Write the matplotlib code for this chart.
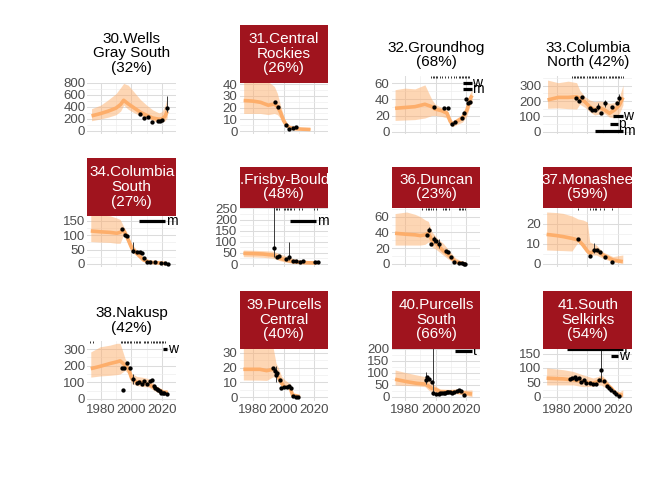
import matplotlib
matplotlib.use('Agg')
import matplotlib.pyplot as plt
import matplotlib.transforms as mtransforms
import numpy as np

plt.rcParams['font.family'] = ['Liberation Sans', 'DejaVu Sans']

# 30. Wells Gray South
wgs_yr = [1974, 1980, 1985, 1990, 1993, 1995, 1998, 2002, 2006, 2010, 2014, 2018, 2020, 2022, 2023.5]
wgs_fit = [250, 290, 330, 380, 440, 510, 450, 380, 310, 260, 215, 195, 200, 240, 330]
wgs_lo = [170, 200, 230, 270, 330, 430, 360, 300, 250, 220, 170, 140, 145, 170, 220]
wgs_hi = [370, 430, 520, 620, 720, 790, 760, 640, 520, 430, 350, 300, 320, 420, 560]
wgs_obs_yr = [2006.0, 2008.4, 2011.2, 2013.4, 2017.6, 2018.9, 2020.2, 2023.5]
wgs_obs = [284, 215, 232, 148, 170, 164, 187, 385]
wgs_err_yr = [2023.5]
wgs_err_lo = [310]
wgs_err_hi = [575]

# 31. Central Rockies
cr_yr = [1974, 1980, 1985, 1990, 1994, 1996, 1998, 2000, 2002, 2004, 2008, 2012, 2017.5]
cr_fit = [26, 25.5, 24.5, 22, 23, 21, 16, 9, 5, 3, 2, 1.7, 1.4]
cr_lo = [15, 15, 15, 14, 15, 14, 11, 6, 3.5, 2, 1.2, 1, 0.8]
cr_hi = [45, 45, 44, 42, 38, 32, 22, 13, 7, 4.5, 3.5, 3, 3]
cr_obs_yr = [1994.4, 1996.5, 2001.6, 2003.7, 2005.9, 2008.0]
cr_obs = [24.8, 20.7, 5, 1.4, 2.8, 3.9]

# 32. Groundhog
gh_yr = [1973.5, 1980, 1986.5, 1993, 1997.5, 1999.7, 2004, 2007.4, 2009.5, 2011, 2014, 2017.6, 2020.5, 2022.6, 2023.8]
gh_fit = [29, 30, 31, 34, 31, 28, 26, 23, 13, 9, 13, 17, 27, 41, 45]
gh_lo = [14, 14.5, 15, 17, 20, 20, 19, 17, 9, 6, 9, 12, 20, 33, 36]
gh_hi = [52, 54, 53, 58, 40, 34, 30, 27, 18, 13, 17, 22, 33, 48, 52]
gh_obs_yr = [1999.0, 2005.8, 2008.0, 2010.8, 2012.8, 2017.2, 2018.7, 2020.0, 2021.3, 2022.2]
gh_obs = [30.2, 29, 29, 9.2, 11.6, 17.4, 23.6, 40, 35, 37]
gh_rug = [1997, 1998, 1999, 2000, 2001, 2003, 2004, 2006, 2008, 2010, 2012, 2013,
          2015, 2016, 2017, 2018, 2019, 2020, 2021, 2022]
gh_trt_lab = ['w', 'm']
gh_trt_start = [2017.8, 2017.8]
gh_trt_end = [2023.5, 2023.5]
gh_trt_y = [60, 53]

# 33. Columbia North
cn_yr = [1974, 1981, 1987.5, 1993, 1995, 1998.3, 2001.6, 2004.8, 2008, 2011.3, 2014.5, 2017.8, 2021, 2023.3]
cn_fit = [207, 224, 224, 228, 218, 196, 163, 142, 157, 142, 120, 142, 174, 224]
cn_lo = [153, 155, 150, 148, 179, 160, 130, 109, 115, 118, 95, 90, 120, 174]
cn_hi = [337, 320, 330, 320, 272, 230, 207, 196, 200, 196, 185, 190, 228, 305]
cn_obs_yr = [1992.6, 1994.4, 1996.2, 2001.5, 2003.3, 2004.8, 2007.0, 2009.2, 2011.3, 2016.1, 2019.5, 2021.0]
cn_obs = [218, 200, 228, 157, 142, 142, 163, 120, 185, 163, 185, 218]
cn_err_yr = [2007.0, 2011.3, 2021.0]
cn_err_lo = [140, 160, 195]
cn_err_hi = [190, 210, 245]
cn_rug = [1990, 1991, 1992, 1993, 1994, 1995, 1996, 1997, 1998, 2000, 2001, 2002, 2003,
          2004, 2005, 2006, 2007, 2008, 2009, 2010, 2011, 2012, 2014, 2015, 2016, 2017,
          2018, 2019, 2020, 2021, 2022, 2023]
cn_trt_lab = ['w', 'p', 'm']
cn_trt_start = [2017.0, 2014.5, 2005.0]
cn_trt_end = [2023.2, 2020.0, 2023.2]
cn_trt_y = [104, 52, 3]

# 34. Columbia South
cs_yr = [1973.5, 1980, 1986, 1990.5, 1992.7, 1994.8, 1997.1, 2000.3, 2003.6, 2008, 2012.3, 2018.9, 2023.3]
cs_fit = [115, 112, 110, 107, 110, 118, 95, 55, 37, 14, 6, 3.5, 1]
cs_lo = [78, 76, 75, 72, 72, 100, 80, 42, 28, 9, 3, 1, 0]
cs_hi = [170, 170, 168, 160, 155, 132, 110, 70, 48, 22, 11, 6, 3]
cs_obs_yr = [1993.8, 1995.9, 1997.1, 2001.4, 2003.6, 2005.8, 2006.9, 2008.4, 2010.2, 2012.3, 2015.6, 2019.7, 2022.0, 2023.7]
cs_obs = [122, 101, 99, 45, 43, 41, 37, 20, 8, 6, 6, 4.5, 2.5, 0.5]
cs_err_yr = [2001.4]
cs_err_lo = [37]
cs_err_hi = [78]
cs_trt_lab = ['m']
cs_trt_start = [2004.7]
cs_trt_end = [2022.2]
cs_trt_y = [149]

# 35. Frisby-Boulder
fb_yr = [1973.8, 1980, 1986.8, 1993.3, 1997.6, 2002, 2006.3, 2010.7, 2015, 2021.5]
fb_fit = [48, 47, 45, 40, 26, 18, 10, 7.5, 6, 4.5]
fb_lo = [33, 32, 30, 26, 15, 7.5, 4, 2.5, 2, 1.5]
fb_hi = [63, 62, 60, 58, 45, 35, 25, 18, 14, 10]
fb_obs_yr = [1993.8, 1995.9, 1997.2, 2001.6, 2003.7, 2005.9, 2008.0, 2010.7, 2012.8, 2020.4, 2022.6]
fb_obs = [71, 30, 36, 21, 30, 15, 13.5, 7.5, 13.5, 7.5, 10]
fb_err_yr = [1993.8, 2003.7]
fb_err_lo = [30, 18]
fb_err_hi = [260, 100]
fb_rug = [1994, 1995, 1996, 1997, 2000, 2001, 2002, 2003, 2004, 2005, 2007, 2010, 2012, 2020, 2022]
fb_trt_lab = ['m']
fb_trt_start = [2004.2]
fb_trt_end = [2021.5]
fb_trt_y = [193]

# 36. Duncan
dun_yr = [1973.5, 1981, 1986.6, 1990, 1993.1, 1995.3, 1997.5, 2000.8, 2005.1, 2008.4, 2012.8, 2018.3, 2019.5]
dun_fit = [39, 37.7, 37, 36, 37, 39, 30.5, 25, 16.5, 11.4, 3, 0.4, 0.3]
dun_lo = [24, 24, 24, 24, 25, 28, 22, 17.8, 11, 6, 1, 0, 0]
dun_hi = [64, 66, 63, 60, 56, 54, 41, 33, 26, 18, 8, 2, 1.5]
dun_obs_yr = [1994.6, 1996.0, 1996.9, 1999.1, 2000.4, 2001.9, 2006.9, 2008.4, 2010.2, 2012.3, 2015.6, 2017.2, 2018.3, 2019.4]
dun_obs = [37, 43.7, 25.8, 32, 28.7, 25.8, 15.9, 15, 8.6, 3, 1.7, 0.9, 0.4, 0]
dun_err_yr = [1996.0, 1999.1, 2001.9]
dun_err_lo = [40, 26, 20]
dun_err_hi = [47, 36, 32]
dun_rug = [1991, 1994, 1995, 1996, 1997, 1998, 2000, 2005, 2006, 2007, 2009, 2015, 2016, 2017, 2018, 2019]

# 37. Monashee
mon_yr = [1973.4, 1980, 1984.2, 1990, 1994, 1997.2, 2000, 2001.6, 2005.9, 2010.2, 2016.7, 2023.2]
mon_fit = [14.8, 14.2, 13.7, 12.8, 12, 9.5, 6.5, 5.3, 7, 4.5, 2, 1.2]
mon_lo = [7, 6.8, 6.7, 6.5, 11, 7.8, 5.5, 4.5, 4.5, 2.8, 1, 0.3]
mon_hi = [26, 25.7, 25.3, 24, 22.5, 22, 21, 11, 9.5, 6, 3.7, 4.5]
mon_obs_yr = [1994.0, 2002.0, 2004.2, 2006.3, 2008.0, 2011.3, 2016.3]
mon_obs = [12.3, 4.2, 7, 7, 6.2, 3.7, 1.2]
mon_err_yr = [2004.2]
mon_err_lo = [5.3]
mon_err_hi = [10.3]
mon_rug = [1994, 2002, 2004, 2005, 2006, 2008, 2011, 2016]

# 38. Nakusp
nak_yr = [1973.5, 1979.6, 1986, 1990.5, 1992.7, 1995.9, 1998.1, 2000.3, 2003.6, 2006.9, 2011.2, 2016.7, 2021.1, 2023.7]
nak_fit = [182, 196, 213, 223, 229, 203, 182, 122, 101, 101, 87, 61, 40, 40]
nak_lo = [131, 138, 142, 146, 150, 172, 150, 91, 80, 75, 71, 40, 24, 24]
nak_hi = [283, 314, 324, 335, 335, 243, 210, 152, 135, 131, 122, 75, 50, 50]
nak_obs_yr = [1993.8, 1994.8, 1995.3, 1997.1, 1999.2, 2001.4, 2003.6, 2005.3, 2006.9, 2008.0, 2010.2,
              2012.0, 2013.5, 2014.5, 2015.5, 2016.5, 2017.5, 2018.5, 2019.5, 2020.5, 2021.5, 2023.0]
nak_obs = [189, 55, 189, 217, 189, 122, 95, 101, 91, 110, 91, 107, 111, 75, 68, 60, 52, 45, 38, 35, 33, 32]
nak_err_yr = [2001.4]
nak_err_lo = [91]
nak_err_hi = [152]
nak_rug = [1973, 1975, 1993, 1994, 1995, 1996, 1997, 1998, 1999, 2000, 2002, 2003, 2004, 2005,
           2006, 2008, 2009, 2010, 2011, 2013, 2014, 2015, 2016, 2017, 2018, 2019, 2020, 2021, 2022]
nak_trt_lab = ['w']
nak_trt_start = [2020.7]
nak_trt_end = [2023.3]
nak_trt_y = [300]

# 39. Purcells Central
pc_yr = [1973.8, 1984.6, 1989, 1993.3, 1995.1, 1996.5, 1998.8, 2000.9, 2003, 2004.2, 2005.9, 2010.7]
pc_fit = [18.8, 18.8, 17.9, 18.8, 17.2, 13.8, 9.4, 6.7, 6.7, 6.7, 1.5, 0.4]
pc_lo = [11.6, 11.5, 11.3, 13.8, 13, 10.5, 7, 6, 5.5, 4.9, 0.4, 0.1]
pc_hi = [34, 34, 34, 33, 23, 20, 14, 11.6, 10, 9.4, 2.7, 1]
pc_obs_yr = [1993.3, 1994.4, 1995.1, 1995.9, 1997.6, 1998.1, 2000.3, 2002.0, 2003.7, 2005.2, 2005.9, 2008.0, 2009.5]
pc_obs = [19.5, 17.9, 15, 16.5, 11.6, 6, 6.7, 6.7, 7.6, 6, 0.5, 0.3, 0.3]
pc_err_yr = [1994.4, 1995.1]
pc_err_lo = [14, 10]
pc_err_hi = [20, 21]

# 40. Purcells South
ps_yr = [1973.5, 1981.1, 1987.7, 1993.1, 1995.3, 1997.5, 1999.7, 2003, 2009.5, 2013.9, 2017.2, 2023.8]
ps_fit = [73, 63, 56, 53, 45, 35, 31, 21, 20, 22, 17, 11]
ps_lo = [49, 47, 45, 42, 28, 20, 14, 12, 11, 12, 8, 0]
ps_hi = [112, 100, 91, 84, 84, 62, 45, 32, 31, 31, 28, 28]
ps_obs_yr = [1993.8, 1994.6, 1996.0, 1997.5, 1998.2, 2000.4, 2001.9, 2003.0, 2004.1, 2005.2, 2006.3,
             2007.4, 2008.4, 2009.5, 2010.6, 2012.1, 2013.9, 2015.4, 2016.7, 2018.3]
ps_obs = [70, 84, 73, 63, 14, 11, 11.3, 14, 17, 16, 17.5, 18, 20, 18, 17, 20, 24, 28, 24, 7]
ps_err_yr = [1993.8, 1998.2]
ps_err_lo = [55, 5]
ps_err_hi = [105, 220]
ps_trt_lab = ['t']
ps_trt_start = [2012.8]
ps_trt_end = [2023.8]
ps_trt_y = [191]

# 41. South Selkirks
ss_yr = [1973.4, 1984.2, 1990.7, 1997.2, 2003.7, 2006.9, 2009.2, 2012.4, 2015.7, 2018.4, 2021, 2023.2]
ss_fit = [64.6, 62, 58.6, 52.7, 47, 52.7, 61, 44.5, 29.5, 12, 6, 6]
ss_lo = [41, 41, 41, 35, 36, 41, 40, 30, 17.6, 5, 0, 0]
ss_hi = [100, 94, 88, 76, 65, 70, 76, 60, 35, 22, 17.6, 23.5]
ss_obs_yr = [1989.0, 1990.3, 1991.8, 1992.9, 1994.6, 1996.1, 1997.6, 1999.4, 2001.5, 2003.7, 2005.9,
             2007.6, 2009.2, 2010.7, 2012.8, 2014.1, 2015.7, 2017.2, 2018.9, 2020.6]
ss_obs = [61, 64.6, 68, 61, 64.6, 52.7, 58.6, 47, 47, 44.5, 44.5, 58.6, 94, 56, 37, 29.5, 23.5, 17.6, 9.4, 2.3]
ss_err_yr = [2009.2]
ss_err_lo = [50]
ss_err_hi = [175]
ss_trt_lab = ['f', 'w']
ss_trt_start = [1986.8, 2015.7]
ss_trt_end = [2023.2, 2020.0]
ss_trt_y = [166, 140.5]

titles = ['30.Wells\nGray South\n(32%)', '31.Central\nRockies\n(26%)', '32.Groundhog\n(68%)',
          '33.Columbia\nNorth (42%)', '34.Columbia\nSouth\n(27%)', '35.Frisby-Boulder\n(48%)',
          '36.Duncan\n(23%)', '37.Monashee\n(59%)', '38.Nakusp\n(42%)', '39.Purcells\nCentral\n(40%)',
          '40.Purcells\nSouth\n(66%)', '41.South\nSelkirks\n(54%)']
declining = [False, True, False, False, True, True, True, True, False, True, True, True]
y_limits = [(-42, 805), (-2, 41.3), (-2.2, 69.6), (-12, 367), (-8.7, 167), (-11, 254),
            (-3.2, 71.7), (-1.25, 28.25), (-10, 349), (-2.2, 32.8), (-16, 202), (-13, 167.5)]
y_ticks = [[0, 200, 400, 600, 800], [0, 10, 20, 30, 40], [0, 20, 40, 60], [0, 100, 200, 300],
           [0, 50, 100, 150], [0, 50, 100, 150, 200, 250], [0, 20, 40, 60], [0, 10, 20],
           [0, 100, 200, 300], [0, 10, 20, 30], [0, 50, 100, 150, 200], [0, 50, 100, 150]]

herds = [
    dict(yr=wgs_yr, fit=wgs_fit, lo=wgs_lo, hi=wgs_hi, oy=wgs_obs_yr, ov=wgs_obs,
         ey=wgs_err_yr, el=wgs_err_lo, eh=wgs_err_hi),
    dict(yr=cr_yr, fit=cr_fit, lo=cr_lo, hi=cr_hi, oy=cr_obs_yr, ov=cr_obs),
    dict(yr=gh_yr, fit=gh_fit, lo=gh_lo, hi=gh_hi, oy=gh_obs_yr, ov=gh_obs, rug=gh_rug,
         tl=gh_trt_lab, ts=gh_trt_start, te=gh_trt_end, ty=gh_trt_y),
    dict(yr=cn_yr, fit=cn_fit, lo=cn_lo, hi=cn_hi, oy=cn_obs_yr, ov=cn_obs,
         ey=cn_err_yr, el=cn_err_lo, eh=cn_err_hi, rug=cn_rug,
         tl=cn_trt_lab, ts=cn_trt_start, te=cn_trt_end, ty=cn_trt_y),
    dict(yr=cs_yr, fit=cs_fit, lo=cs_lo, hi=cs_hi, oy=cs_obs_yr, ov=cs_obs,
         ey=cs_err_yr, el=cs_err_lo, eh=cs_err_hi,
         tl=cs_trt_lab, ts=cs_trt_start, te=cs_trt_end, ty=cs_trt_y),
    dict(yr=fb_yr, fit=fb_fit, lo=fb_lo, hi=fb_hi, oy=fb_obs_yr, ov=fb_obs,
         ey=fb_err_yr, el=fb_err_lo, eh=fb_err_hi, rug=fb_rug,
         tl=fb_trt_lab, ts=fb_trt_start, te=fb_trt_end, ty=fb_trt_y),
    dict(yr=dun_yr, fit=dun_fit, lo=dun_lo, hi=dun_hi, oy=dun_obs_yr, ov=dun_obs,
         ey=dun_err_yr, el=dun_err_lo, eh=dun_err_hi, rug=dun_rug),
    dict(yr=mon_yr, fit=mon_fit, lo=mon_lo, hi=mon_hi, oy=mon_obs_yr, ov=mon_obs,
         ey=mon_err_yr, el=mon_err_lo, eh=mon_err_hi, rug=mon_rug),
    dict(yr=nak_yr, fit=nak_fit, lo=nak_lo, hi=nak_hi, oy=nak_obs_yr, ov=nak_obs,
         ey=nak_err_yr, el=nak_err_lo, eh=nak_err_hi, rug=nak_rug,
         tl=nak_trt_lab, ts=nak_trt_start, te=nak_trt_end, ty=nak_trt_y),
    dict(yr=pc_yr, fit=pc_fit, lo=pc_lo, hi=pc_hi, oy=pc_obs_yr, ov=pc_obs,
         ey=pc_err_yr, el=pc_err_lo, eh=pc_err_hi),
    dict(yr=ps_yr, fit=ps_fit, lo=ps_lo, hi=ps_hi, oy=ps_obs_yr, ov=ps_obs,
         ey=ps_err_yr, el=ps_err_lo, eh=ps_err_hi,
         tl=ps_trt_lab, ts=ps_trt_start, te=ps_trt_end, ty=ps_trt_y),
    dict(yr=ss_yr, fit=ss_fit, lo=ss_lo, hi=ss_hi, oy=ss_obs_yr, ov=ss_obs,
         ey=ss_err_yr, el=ss_err_lo, eh=ss_err_hi,
         tl=ss_trt_lab, ts=ss_trt_start, te=ss_trt_end, ty=ss_trt_y),
]

# layout in pixels
W, H = 672, 480
COL_LR = [(87.4, 176.0), (239.5, 328.3), (391.7, 480.3), (543.4, 632.0)]
ROW_BOTTOM = [133.5, 266.5, 400.5]
ROW_TOP3 = [82.5, 216.0, 348.5]
ROW_TOP2 = [75.5, 207.5, 341.0]
STRIP_H = {2: 41.0, 3: 58.0}
XLIM = (1971.3, 2029.2)

RED = '#A0141E'
LINE = '#FDAE6B'
GRID_MAJ = '#DCDCDC'
GRID_MIN = '#EDEDED'
TICK_COL = '#4D4D4D'

fig = plt.figure(figsize=(W / 100, H / 100), dpi=100)


def px_axes(l, t, r, b):
    return fig.add_axes([l / W, 1 - b / H, (r - l) / W, (b - t) / H])


for i, h in enumerate(herds):
    row, col = divmod(i, 4)
    nlines = titles[i].count('\n') + 1
    left, right = COL_LR[col]
    top = ROW_TOP3[row] if nlines == 3 else ROW_TOP2[row]
    ax = px_axes(left, top, right, ROW_BOTTOM[row])

    ax.fill_between(h['yr'], h['lo'], h['hi'], color=LINE, alpha=0.5, lw=0, zorder=1)
    ax.plot(h['yr'], h['fit'], color=LINE, lw=2.6, zorder=2, solid_capstyle='butt')
    if 'ey' in h:
        ax.vlines(h['ey'], h['el'], h['eh'], color='#3A3A3A', lw=0.7, zorder=3)
    ax.plot(h['oy'], h['ov'], 'o', ms=3.1, color='black', mec='none', zorder=4)
    if 'rug' in h:
        trans = mtransforms.blended_transform_factory(ax.transData, ax.transAxes)
        ax.vlines(h['rug'], 0.965, 1.0, transform=trans, color='#333333', lw=0.7, zorder=3)
    if 'tl' in h:
        for lab, s, e, y in zip(h['tl'], h['ts'], h['te'], h['ty']):
            ax.hlines(y, s, e, color='black', lw=2.3, zorder=5, clip_on=False)
            ax.text(e + 0.4, y, lab, ha='left', va='center', fontsize=10,
                    color='black', zorder=5, clip_on=False)

    ymin, ymax = y_limits[i]
    ax.set_xlim(*XLIM)
    ax.set_ylim(ymin, ymax)
    ticks = y_ticks[i]
    step = ticks[1] - ticks[0]
    minors = [t + step / 2 for t in ticks + [ticks[-1] + step] if ymin < t + step / 2 < ymax]
    ax.set_yticks(ticks)
    ax.set_yticks(minors, minor=True)
    ax.set_xticks([1980, 2000, 2020])
    ax.set_xticks([1990, 2010], minor=True)
    ax.grid(which='major', color=GRID_MAJ, lw=0.75, zorder=0)
    ax.grid(which='minor', color=GRID_MIN, lw=0.45, zorder=0)
    ax.set_axisbelow(True)
    for sp in ax.spines.values():
        sp.set_visible(False)
    ax.tick_params(which='both', length=0)
    ax.tick_params(axis='y', labelsize=9.5, labelcolor=TICK_COL, pad=1.5)
    ax.tick_params(axis='x', labelsize=9.5, labelcolor=TICK_COL, pad=2.5,
                   labelbottom=(row == 2))

# strips drawn over the panels
for i in range(len(herds)):
    row, col = divmod(i, 4)
    nlines = titles[i].count('\n') + 1
    left, right = COL_LR[col]
    top = ROW_TOP3[row] if nlines == 3 else ROW_TOP2[row]
    sax = px_axes(left, top - STRIP_H[nlines], right, top)
    sax.set_zorder(10)
    sax.set_xticks([])
    sax.set_yticks([])
    for sp in sax.spines.values():
        sp.set_visible(False)
    if declining[i]:
        sax.set_facecolor(RED)
        tcol = 'white'
    else:
        sax.patch.set_alpha(0)
        tcol = 'black'
    sax.text(0.5, 0.5, titles[i], transform=sax.transAxes, ha='center', va='center',
             fontsize=11, color=tcol, linespacing=1.08, clip_on=declining[i])

fig.savefig('out.png', dpi=100)
